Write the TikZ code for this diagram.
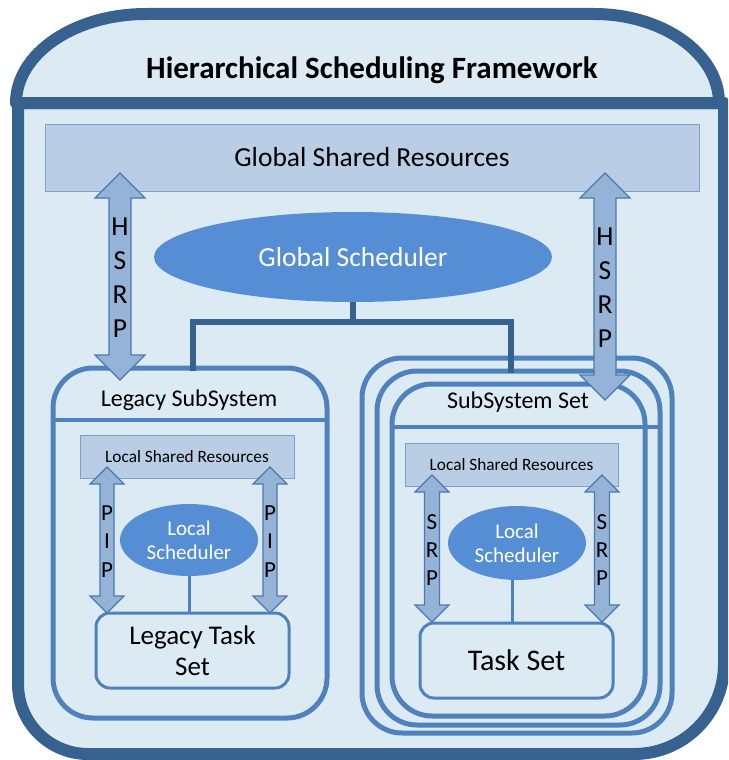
\documentclass[tikz,border=0pt]{standalone}
\usepackage{fontspec}
\setmainfont{Carlito}
\usetikzlibrary{shapes.geometric}
\definecolor{frame}{HTML}{37618F}
\definecolor{bg}{HTML}{DCEBF3}
\definecolor{boxblue}{HTML}{4F81BD}
\definecolor{resfill}{HTML}{B9CDE5}
\definecolor{resline}{HTML}{7F9FCF}
\definecolor{ellfill}{HTML}{558ED5}
\definecolor{arrfill}{HTML}{95B3D7}
\definecolor{arrline}{HTML}{4A78B0}
\newcommand\fsz[2]{\fontsize{#1}{#2}\selectfont}
\newcommand\dblarr[6]{% x, ytop, ybot, shaft half, head half, head length
  \draw[arrowshape] (#1,#2) -- (#1+#5,#2+#6) -- (#1+#4,#2+#6) -- (#1+#4,#3-#6)
    -- (#1+#5,#3-#6) -- (#1,#3) -- (#1-#5,#3-#6) -- (#1-#4,#3-#6)
    -- (#1-#4,#2+#6) -- (#1-#5,#2+#6) -- cycle;}
\begin{document}
\begin{tikzpicture}[x=1pt,y=-1pt,
  framestyle/.style={draw=frame, fill=bg, line width=12pt, line join=round},
  resbox/.style={draw=resline, fill=resfill, line width=1pt, inner sep=0pt},
  sched/.style={ellipse, fill=ellfill, text=white, inner sep=0pt, align=center},
  subbox/.style={draw=boxblue, line width=5pt, rounded corners=40pt, inner sep=0pt},
  taskbox/.style={draw=boxblue, fill=bg, line width=3pt, rounded corners=14pt, inner sep=0pt, align=center},
  sepline/.style={draw=boxblue, line width=4pt},
  conn/.style={draw=frame, line width=6pt},
  lconn/.style={draw=boxblue, line width=3pt},
  arrowshape/.style={draw=arrline, fill=arrfill, line width=1.2pt, line join=miter},
  letters/.style={align=center, inner sep=0pt}
]
\useasboundingbox (0,0) rectangle (728,760);
\clip (0,0) rectangle (728,760);
\fill[white] (0,0) rectangle (728,760);

% outer frame: body and title band
\path[framestyle] (18,103) -- (18,684) arc[start angle=180, end angle=90, radius=70]
  -- (634,754) arc[start angle=90, end angle=0, radius=90] -- (724,103) -- cycle;
\path[framestyle] (16,103) arc[start angle=180, end angle=270, x radius=130, y radius=89]
  -- (594,14) arc[start angle=270, end angle=360, x radius=125, y radius=89] -- cycle;
\node[font=\bfseries\fsz{31}{36}] (title) at (372,70) {Hierarchical Scheduling Framework};

% global level
\node[resbox, minimum width=654pt, minimum height=67pt, font=\fsz{27.5}{33}] (gsr) at (372,157.5) {Global Shared Resources};
\node[sched, minimum width=398pt, minimum height=90pt, font=\fsz{27.5}{33}] (gs) at (353,257) {Global Scheduler};

% legacy subsystem
\node[subbox, minimum width=274pt, minimum height=350pt] (legacy) at (190,543) {};
\draw[sepline] (53,420) -- (327,420);
\node[font=\fsz{24}{28}] (legtitle) at (189,400) {Legacy SubSystem};
\node[resbox, minimum width=214pt, minimum height=43pt, font=\fsz{17.3}{20}] (lsr1) at (187,456.5) {Local Shared Resources};
\node[sched, minimum width=138pt, minimum height=72pt, font=\fsz{21}{24}] (ls1) at (189,540) {Local\\Scheduler};
\node[taskbox, minimum width=193pt, minimum height=75pt, font=\fsz{27}{31}] (lt) at (192.5,650.5) {Legacy Task\\Set};
\draw[lconn] (ls1.south) -- (ls1.south |- lt.north);
\dblarr{107}{467}{613}{7}{17}{17}
\dblarr{270}{467}{613}{7}{17}{17}
\node[letters, font=\fsz{23}{28.5}] (pip1) at (107,541.5) {P\\I\\P};
\node[letters, font=\fsz{23}{28.5}] (pip2) at (270,541.5) {P\\I\\P};

% subsystem set (stacked)
\node[subbox, minimum width=310pt, minimum height=375pt] (ss1) at (517,545.5) {};
\node[subbox, minimum width=283pt, minimum height=354pt] (ss2) at (518.5,548) {};
\node[subbox, minimum width=253pt, minimum height=332pt] (ss3) at (518.5,550) {};
\draw[sepline] (392,427) -- (660,427);
\node[font=\fsz{24}{28}] (sstitle) at (518,402) {SubSystem Set};
\node[resbox, minimum width=213pt, minimum height=43pt, font=\fsz{17.3}{20}] (lsr2) at (511.5,464.5) {Local Shared Resources};
\node[sched, minimum width=138pt, minimum height=74pt, font=\fsz{21}{24}] (ls2) at (517,543) {Local\\Scheduler};
\node[taskbox, minimum width=193pt, minimum height=75pt, font=\fsz{30}{34}] (ts) at (516.5,660.5) {Task Set};
\draw[lconn] (ls2.south -| ts.north) ++(-4.5,0) -- ([xshift=-4.5pt]ts.north);
\dblarr{432}{475}{622}{7.5}{17}{17}
\dblarr{602}{475}{622}{7.5}{17}{17}
\node[letters, font=\fsz{23}{28}] (srp1) at (432,550) {S\\R\\P};
\node[letters, font=\fsz{23}{28}] (srp2) at (602,550) {S\\R\\P};

% global scheduler connector
\coordinate (junc) at (353,322);
\draw[conn] (gs.south) -- (junc);
\draw[conn, line cap=rect] (193,368) |- (junc) -| (511,370);

% HSRP arrows
\dblarr{120}{173}{380}{11}{25}{25}
\dblarr{605}{173}{400}{11}{25}{25}
\node[letters, font=\fsz{27.5}{34}] (hsrp1) at (120,278) {H\\S\\R\\P};
\node[letters, font=\fsz{27.5}{34}] (hsrp2) at (605,288) {H\\S\\R\\P};
\end{tikzpicture}
\end{document}
